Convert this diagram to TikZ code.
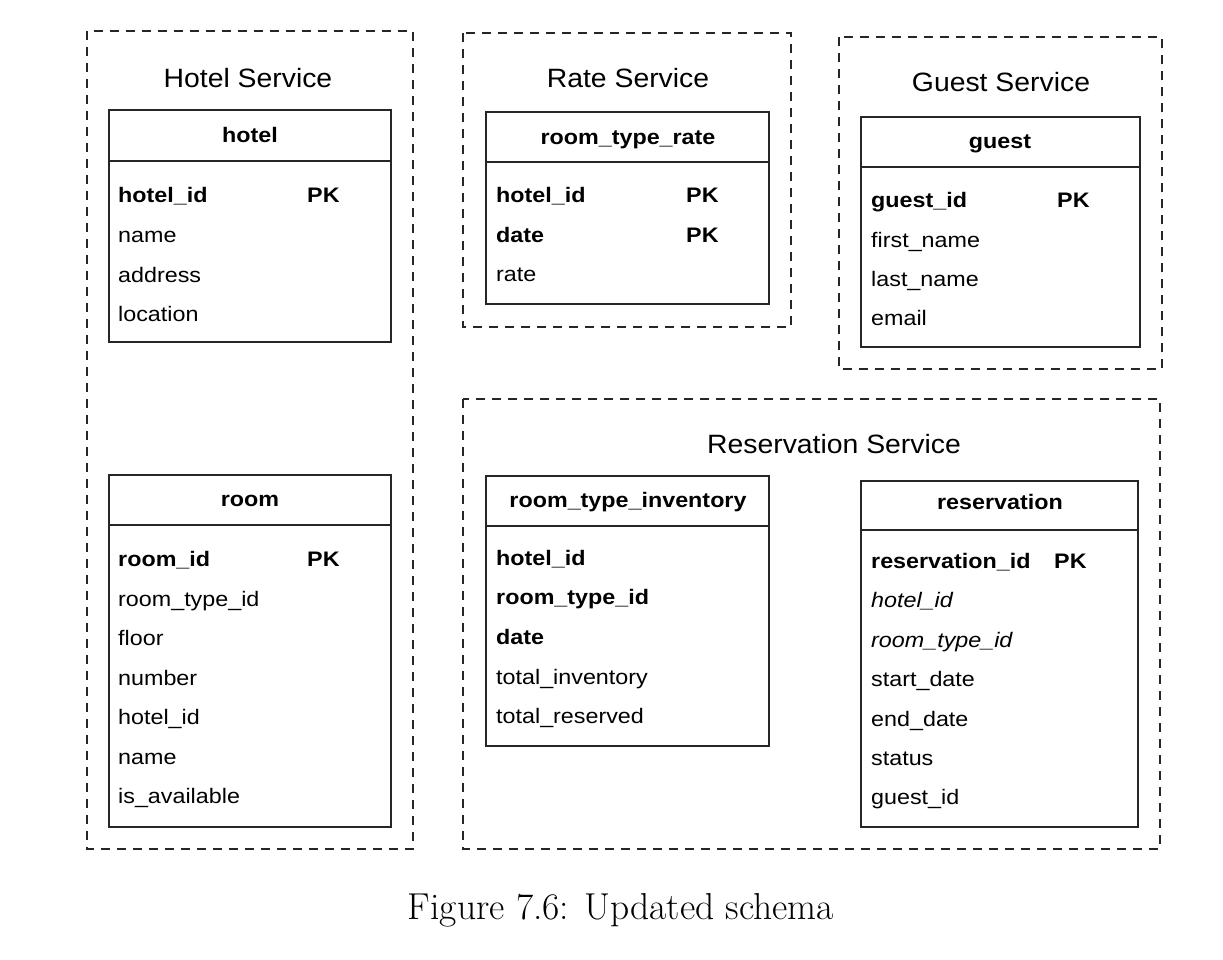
\documentclass[tikz,border=0pt]{standalone}
\usepackage{fontspec}
\newfontfamily\arialf[FakeStretch=1.07]{Liberation Sans}
\newfontfamily\arialt[FakeStretch=1.11]{Liberation Sans}
\newfontfamily\capf{Latin Modern Roman}
\tikzset{
  svc/.style={draw=black!85, line width=1.7pt, dash pattern=on 9pt off 7pt},
  tbl/.style={draw=black!85, line width=1.3pt},
  svctitle/.style={anchor=base, font=\arialf\fontsize{26.5}{30}\selectfont, inner sep=0pt},
  thead/.style={anchor=base, font=\arialt\bfseries\fontsize{21}{25}\selectfont, inner sep=0pt},
  row/.style={anchor=base west, font=\arialt\fontsize{21}{25}\selectfont, inner sep=0pt},
  brow/.style={row, font=\arialt\bfseries\fontsize{21}{25}\selectfont},
  irow/.style={row, font=\arialt\itshape\fontsize{21}{25}\selectfont},
}
\begin{document}
\begin{tikzpicture}[x=1pt,y=-1pt]
\useasboundingbox[fill=white] (0,0) rectangle (1223,959);

% ---------- Hotel Service ----------
\draw[svc] (87,31) rectangle (413,849);
\node[svctitle] (hoteltitle) at (248,87) {Hotel Service};
% hotel table
\draw[tbl] (109,110) rectangle (391,342);
\draw[tbl] (109,161) -- (391,161);
\node[thead] (hotelhead) at (250,142) {hotel};
\node[brow] (h1) at (118,202) {hotel\_id};
\node[brow] (h1pk) at (307,202) {PK};
\node[row] (h2) at (118,242) {name};
\node[row] (h3) at (118,282) {address};
\node[row] (h4) at (118,321) {location};
% room table
\draw[tbl] (109,475) rectangle (391,827);
\draw[tbl] (109,525) -- (391,525);
\node[thead] (roomhead) at (250,506) {room};
\node[brow] (r1) at (118,566) {room\_id};
\node[brow] (r1pk) at (307,566) {PK};
\node[row] (r2) at (118,606) {room\_type\_id};
\node[row] (r3) at (118,645) {floor};
\node[row] (r4) at (118,685) {number};
\node[row] (r5) at (118,724) {hotel\_id};
\node[row] (r6) at (118,764) {name};
\node[row] (r7) at (118,803) {is\_available};

% ---------- Rate Service ----------
\draw[svc] (463,33) rectangle (791,327);
\node[svctitle] (ratetitle) at (628,87) {Rate Service};
\draw[tbl] (486,112) rectangle (769,304);
\draw[tbl] (486,162) -- (769,162);
\node[thead] (ratehead) at (628,144) {room\_type\_rate};
\node[brow] (rt1) at (496,202) {hotel\_id};
\node[brow] (rt1pk) at (686,202) {PK};
\node[brow] (rt2) at (496,242) {date};
\node[brow] (rt2pk) at (686,242) {PK};
\node[row] (rt3) at (496,281) {rate};

% ---------- Guest Service ----------
\draw[svc] (839,37) rectangle (1162,369);
\node[svctitle] (guesttitle) at (1001,91) {Guest Service};
\draw[tbl] (861,117) rectangle (1140,347);
\draw[tbl] (861,167) -- (1140,167);
\node[thead] (guesthead) at (1000,148) {guest};
\node[brow] (g1) at (871,207) {guest\_id};
\node[brow] (g1pk) at (1057,207) {PK};
\node[row] (g2) at (871,247) {first\_name};
\node[row] (g3) at (871,286) {last\_name};
\node[row] (g4) at (871,325) {email};

% ---------- Reservation Service ----------
\draw[svc] (463,399) rectangle (1160,849);
\node[svctitle] (restitle) at (834,453) {Reservation Service};
% room_type_inventory
\draw[tbl] (486,476) rectangle (769,746);
\draw[tbl] (486,526) -- (769,526);
\node[thead] (invhead) at (628,507) {room\_type\_inventory};
\node[brow] (i1) at (496,565) {hotel\_id};
\node[brow] (i2) at (496,604) {room\_type\_id};
\node[brow] (i3) at (496,644) {date};
\node[row] (i4) at (496,684) {total\_inventory};
\node[row] (i5) at (496,723) {total\_reserved};
% reservation
\draw[tbl] (861,481) rectangle (1138,827);
\draw[tbl] (861,530) -- (1138,530);
\node[thead] (reshead) at (1000,509) {reservation};
\node[brow] (s1) at (871,568) {reservation\_id};
\node[brow] (s1pk) at (1054,568) {PK};
\node[irow] (s2) at (871,607) {hotel\_id};
\node[irow] (s3) at (871,647) {room\_type\_id};
\node[row] (s4) at (871,686) {start\_date};
\node[row] (s5) at (871,726) {end\_date};
\node[row] (s6) at (871,765) {status};
\node[row] (s7) at (871,804) {guest\_id};

% ---------- Caption ----------
\node[anchor=base, inner sep=0pt, font=\capf\fontsize{37.5}{44}\selectfont] (caption) at (621,919) {Figure 7.6: Updated schema};
\end{tikzpicture}
\end{document}
